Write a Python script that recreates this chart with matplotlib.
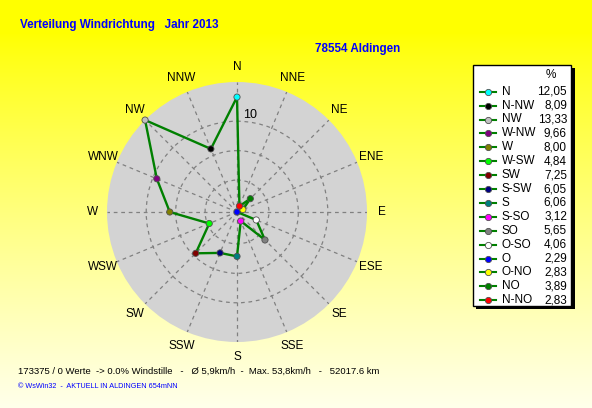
import numpy as np
import matplotlib
matplotlib.use("Agg")
import matplotlib.pyplot as plt
from matplotlib.patches import Rectangle
from matplotlib.lines import Line2D

plt.rcParams["font.family"] = ["Liberation Sans", "DejaVu Sans"]

# Windrichtung, Reihenfolge wie in der Legende (gegen den Uhrzeigersinn ab N)
richtungen = ["N", "N-NW", "NW", "W-NW", "W", "W-SW", "SW", "S-SW",
              "S", "S-SO", "SO", "O-SO", "O", "O-NO", "NO", "N-NO"]
prozent = [12.05, 8.09, 13.33, 9.66, 8.00, 4.84, 7.25, 6.05,
           6.06, 3.12, 5.65, 4.06, 2.29, 2.83, 3.89, 2.83]
farben = ["#00FFFF", "#000000", "#C0C0C0", "#800080", "#808000", "#00FF00",
          "#800000", "#000080", "#008080", "#FF00FF", "#808080", "#FFFFFF",
          "#0000FF", "#FFFF00", "#008000", "#FF0000"]

# Achsenbeschriftung im Uhrzeigersinn ab N
kompass = ["N", "NNE", "NE", "ENE", "E", "ESE", "SE", "SSE",
           "S", "SSW", "SW", "WSW", "W", "WNW", "NW", "NNW"]
ringe = [5, 7.5, 10]
ring_labels = ["", "", "10"]

titel = "Verteilung Windrichtung   Jahr 2013"
ort = "78554 Aldingen"
info = "173375 / 0 Werte  -> 0.0% Windstille   -   \u00d8 5,9km/h  -  Max. 53,8km/h   -   52017.6 km"
copyright_txt = "\u00a9 WsWin32  -  AKTUELL IN ALDINGEN 654mNN"

W, H = 592, 408
fig = plt.figure(figsize=(W / 100, H / 100), dpi=100)

# Hintergrund mit Farbverlauf gelb -> hellgelb
bg = fig.add_axes([0, 0, 1, 1])
bg.set_xlim(0, W)
bg.set_ylim(H, 0)
bg.axis("off")
t = np.clip((np.linspace(0, 1, H) - 0.08) / 0.92, 0, 1)[:, None]
img = np.ones((H, 1, 3))
img[:, :, 2] = 0.92 * t ** 0.85
bg.imshow(img, extent=[0, W, H, 0], aspect="auto", zorder=0)

# Windrose
ax = fig.add_axes([107 / W, 66 / H, 260 / W, 260 / H], projection="polar")
ax.set_theta_zero_location("N")
ax.set_theta_direction(-1)
ax.set_facecolor("#D3D3D3")
ax.spines["polar"].set_visible(False)

winkel = np.deg2rad([-i * 22.5 for i in range(len(prozent))])
th = np.append(winkel, winkel[0])
rr = np.append(prozent, prozent[0])
ax.plot(th, rr, color="#008000", lw=1.7, zorder=3, clip_on=False)
ax.scatter(winkel, prozent, c=farben, s=20, edgecolors="#505050",
           linewidths=0.6, zorder=4, clip_on=False)

ax.set_ylim(min(prozent), max(prozent))
kompass_winkel = np.deg2rad(np.arange(len(kompass)) * 22.5)
ax.set_xticks(kompass_winkel)
ax.set_xticklabels([])
ax.set_yticks(ringe)
ax.set_yticklabels(ring_labels, fontsize=9)
ax.set_rlabel_position(4)
ax.grid(color="#808080", linestyle=(0, (3, 3)), linewidth=0.9)

# Himmelsrichtungen mittig auf einem Kreis ausserhalb der Rose
for a, lab in zip(kompass_winkel, kompass):
    ax.text(0.5 + 0.557 * np.sin(a), 0.5 + 0.557 * np.cos(a), lab,
            transform=ax.transAxes, ha="center", va="center", fontsize=8.5,
            clip_on=False)

# Texte
bg.text(20, 25, titel, color="#0000FF", fontsize=8.4, fontweight="bold",
        va="center", ha="left")
bg.text(315, 49, ort, color="#0000FF", fontsize=8.4, fontweight="bold",
        va="center", ha="left")
bg.text(18, 371, info, color="black", fontsize=6.8, va="center", ha="left")
bg.text(18, 387, copyright_txt, color="#0000FF", fontsize=5.25, va="center", ha="left")

# Legende
bg.add_patch(Rectangle((476, 68), 99, 241, facecolor="black", zorder=1))
bg.add_patch(Rectangle((473, 65), 98, 241, facecolor="white",
                       edgecolor="black", lw=1, zorder=2))
bg.text(551, 75, "%", fontsize=8.5, ha="center", va="center", zorder=3)
for i, (name, wert, fc) in enumerate(zip(richtungen, prozent, farben)):
    y = 91.7 + i * 13.9
    bg.add_line(Line2D([480, 496], [y, y], color="#008000", lw=1.5, zorder=3))
    bg.plot(488, y, "o", ms=4.5, mfc=fc, mec="#505050", mew=0.6, zorder=4)
    bg.text(502, y, name, fontsize=8.5, ha="left", va="center", zorder=3)
    bg.text(567, y, f"{wert:.2f}".replace(".", ","), fontsize=8.5,
            ha="right", va="center", zorder=3)

fig.savefig("out.png", dpi=100)
